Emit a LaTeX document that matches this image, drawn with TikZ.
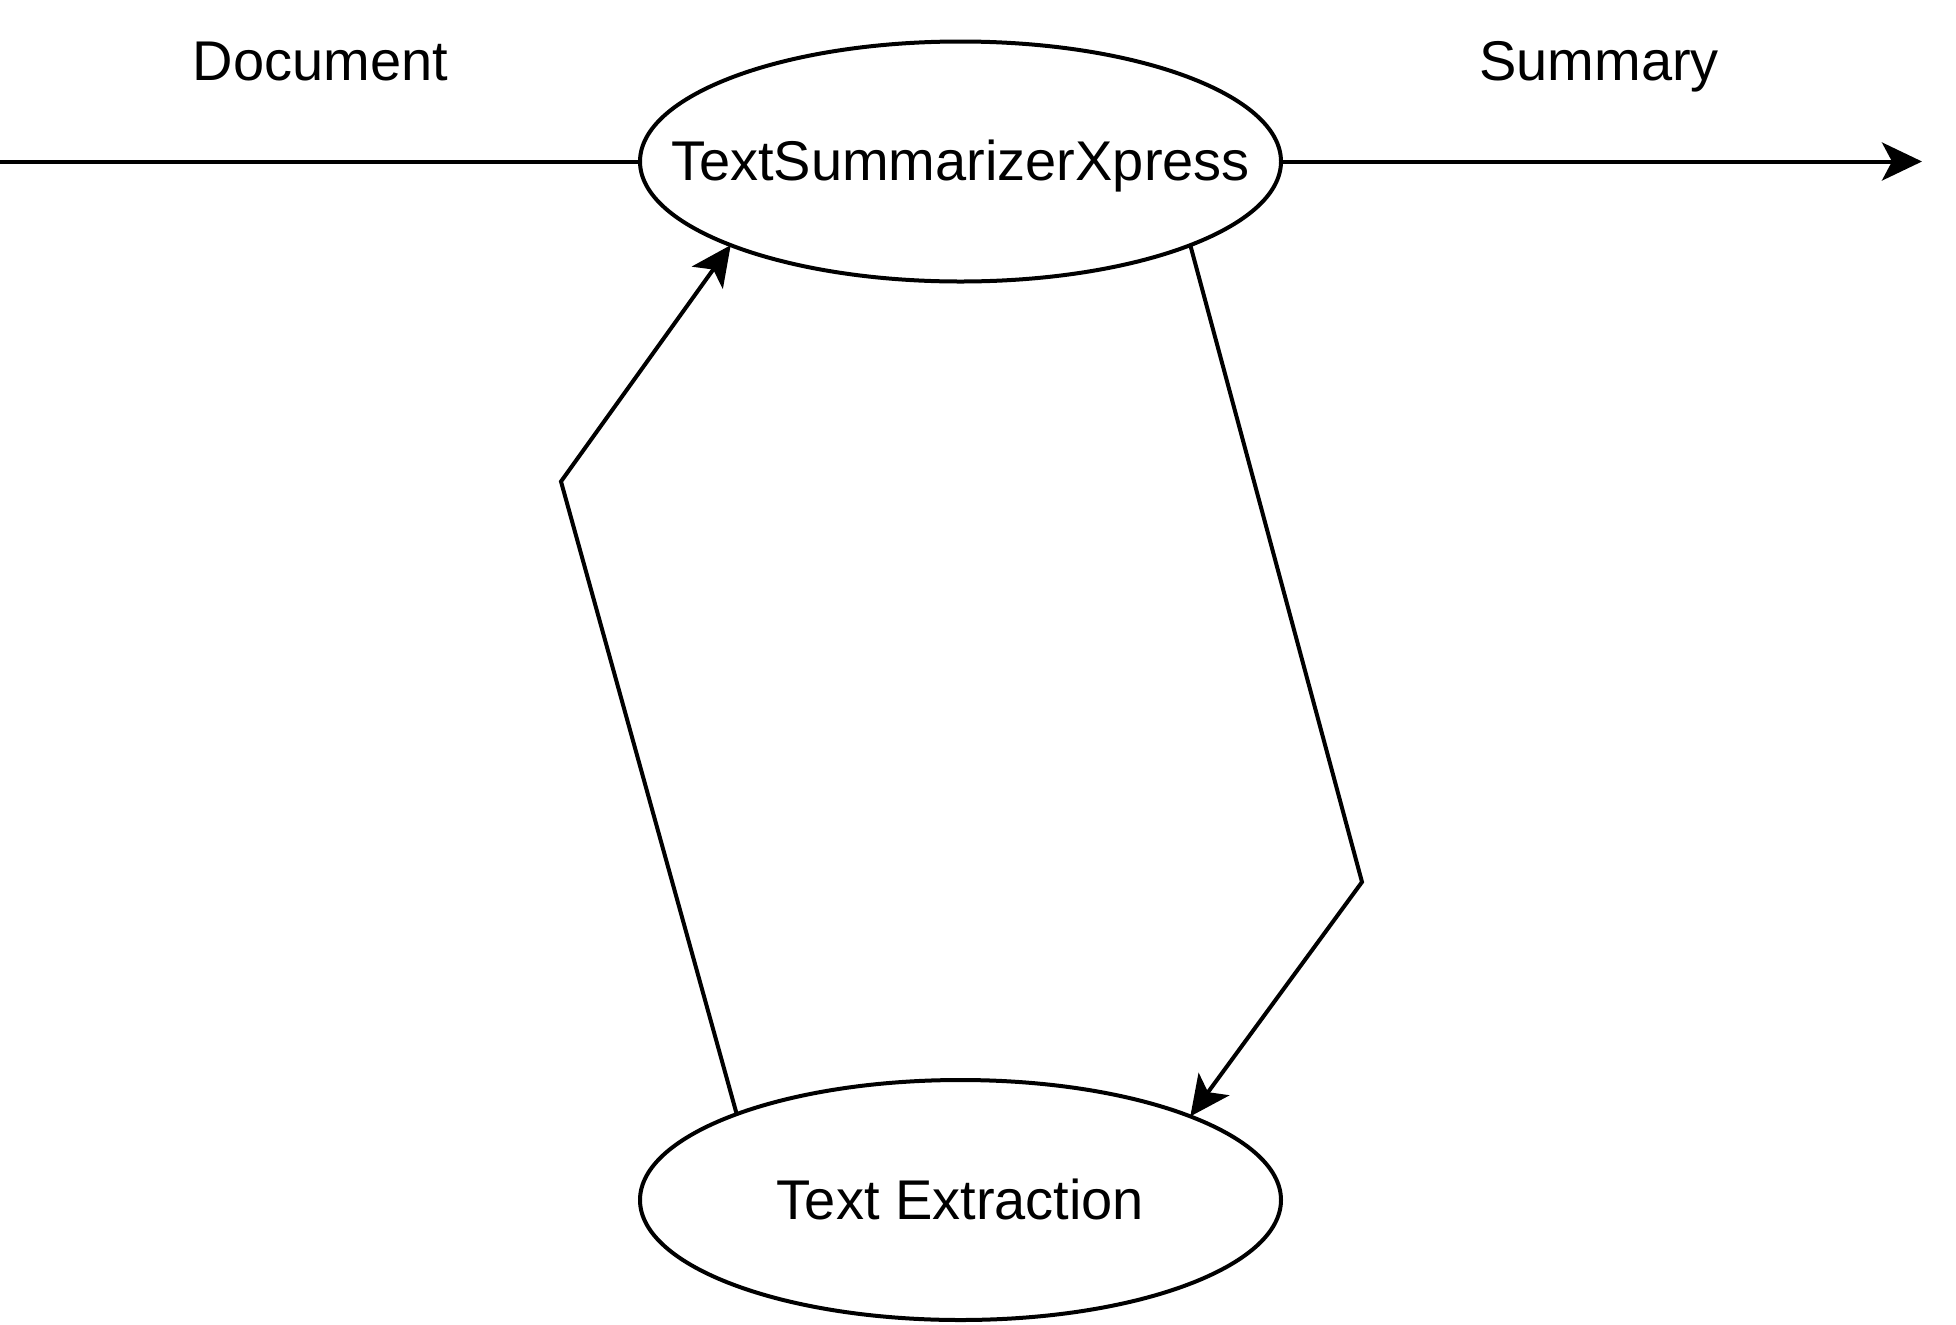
\documentclass[tikz,border=0pt]{standalone}
\usepackage{fontspec}
\setmainfont{Liberation Sans}
\usetikzlibrary{shapes.geometric,arrows.meta}
\tikzset{
  ell/.style={ellipse, draw, line width=2pt, minimum width=320.5pt, minimum height=120pt,
    inner sep=0pt, outer sep=0pt},
  etxt/.style={font=\fontsize{28pt}{33pt}\selectfont, inner sep=0pt,
    text height=20pt, text depth=1pt},
  lbl/.style={font=\fontsize{28pt}{33pt}\selectfont, anchor=base, inner sep=0pt},
  conn/.style={line width=2pt},
  arr/.style={-{Stealth[length=20pt,width=19pt,inset=5pt]}}
}
\begin{document}
\begin{tikzpicture}[x=0.5pt,y=-0.5pt]
\useasboundingbox (0,0) rectangle (1956,1324);
\node[ell] (top) at (960.5,161.5) {};
\node[etxt] (topt) at (top.center) {TextSummarizerXpress};
\node[ell] (bot) at (960.5,1200) {};
\node[etxt] (bott) at (bot.center) {Text Extraction};
\node[lbl] (doc) at (320.6,80) {Document};
\node[lbl] (sum) at (1599,80) {Summary};
\coordinate (in) at (0,161.5);
\coordinate (out) at (1922,161.5);
\coordinate (lb) at (561,481.5);
\coordinate (rb) at (1362,882);
\draw[conn] (in) -- (top.west);
\draw[conn,arr] (top.east) -- (out);
\draw[conn,arr] (bot.159.2) -- (lb) -- (top.200.6);
\draw[conn,arr] (top.-20.6) -- (rb) -- (bot.20.5);
\end{tikzpicture}
\end{document}
